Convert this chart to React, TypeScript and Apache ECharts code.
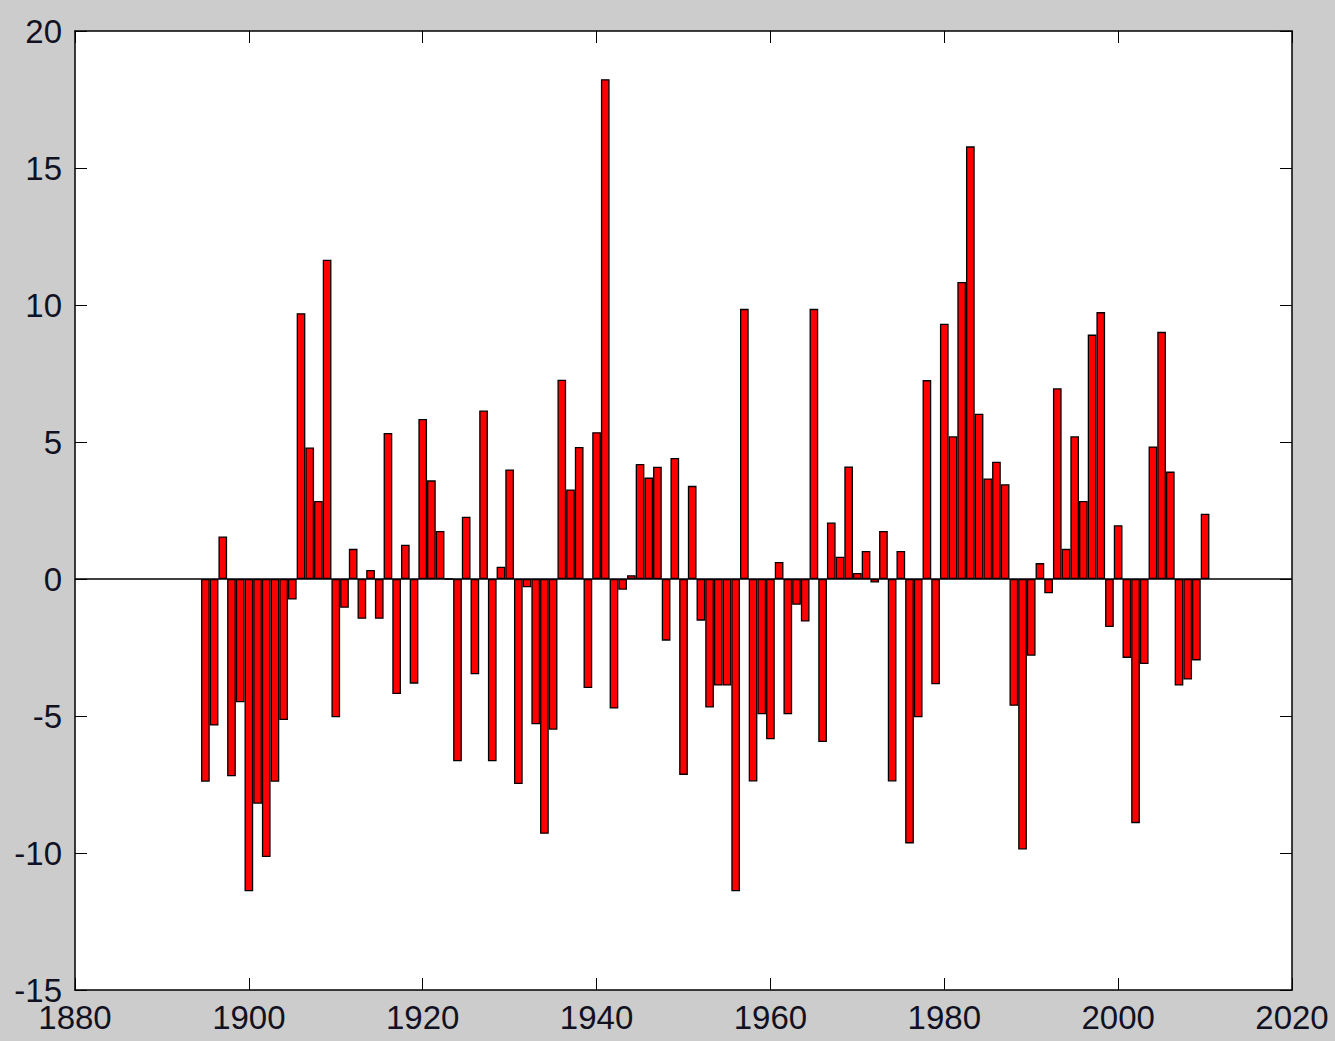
import React, { useEffect, useRef } from "react";
import * as echarts from "echarts";

// First year of the series; one value per year follows
const startYear = 1895;

const values1895to1924 = [
  -7.4, -5.35, 1.55, -7.2, -4.5, -11.4, -8.2, -10.15, -7.4, -5.15,
  -0.75, 9.7, 4.8, 2.85, 11.65, -5.05, -1.05, 1.1, -1.45, 0.33,
  -1.45, 5.33, -4.2, 1.25, -3.82, 5.84, 3.6, 1.75, 0, -6.65,
];
const values1925to1954 = [
  2.27, -3.48, 6.15, -6.65, 0.45, 4.0, -7.48, -0.3, -5.3, -9.3,
  -5.5, 7.27, 3.27, 4.82, -3.98, 5.36, 18.24, -4.73, -0.39, 0.14,
  4.2, 3.7, 4.1, -2.25, 4.42, -7.15, 3.4, -1.52, -4.69, -3.89,
];
const values1955to1984 = [
  -3.89, -11.4, 9.86, -7.39, -4.94, -5.85, 0.62, -4.94, -0.94, -1.55,
  9.86, -5.95, 2.06, 0.81, 4.11, 0.22, 1.02, -0.13, 1.75, -7.39,
  1.02, -9.65, -5.05, 7.26, -3.84, 9.32, 5.21, 10.84, 15.79, 6.03,
];
const values1985to2010 = [
  3.67, 4.28, 3.46, -4.63, -9.87, -2.8, 0.58, -0.52, 6.96, 1.1,
  5.21, 2.85, 8.92, 9.74, -1.75, 1.96, -2.88, -8.91, -3.1, 4.84,
  9.02, 3.92, -3.89, -3.67, -2.97, 2.38,
];

const values = [
  ...values1895to1924,
  ...values1925to1954,
  ...values1955to1984,
  ...values1985to2010,
];
const years = values.map((_, i) => startYear + i);

const xTicks = { min: 1880, max: 2020, interval: 20 };
const yTicks = { min: -15, max: 20, interval: 5 };

const W = 1335;
const H = 1041;
const GRID = { left: 75, right: 43, top: 31, bottom: 51 };

export default function App() {
  const ref = useRef<HTMLDivElement>(null);

  useEffect(() => {
    document.body.style.margin = "0";
    if (!ref.current) return;
    const chart = echarts.init(ref.current, null, { renderer: "svg" });
    const font = "'Liberation Sans', Arial, sans-serif";
    const labelStyle = {
      color: "#111122",
      fontSize: 33,
      fontFamily: font,
    };
    const lineStyle = { color: "#000", width: 1.5 };
    const tickStyle = { color: "#000", width: 1 };
    // one year of the x axis, in pixels: bars fill the full year slot
    const yearPx = (W - GRID.left - GRID.right) / (xTicks.max - xTicks.min);

    chart.setOption({
      animation: false,
      backgroundColor: "#cccccc",
      grid: {
        ...GRID,
        show: true,
        backgroundColor: "#ffffff",
        borderWidth: 0,
      },
      xAxis: [
        {
          type: "value",
          position: "bottom",
          ...xTicks,
          axisLine: { show: true, onZero: false, lineStyle },
          axisTick: { show: true, inside: true, length: 12, lineStyle: tickStyle },
          axisLabel: {
            ...labelStyle,
            margin: 11,
            showMinLabel: true,
            showMaxLabel: true,
            formatter: (v: number) => String(v),
          },
          splitLine: { show: false },
        },
        {
          type: "value",
          position: "top",
          ...xTicks,
          axisLine: { show: true, onZero: false, lineStyle },
          axisTick: { show: true, inside: true, length: 12, lineStyle: tickStyle },
          axisLabel: { show: false },
          splitLine: { show: false },
        },
      ],
      yAxis: [
        {
          type: "value",
          position: "left",
          ...yTicks,
          axisLine: { show: true, onZero: false, lineStyle },
          axisTick: { show: true, inside: true, length: 12, lineStyle: tickStyle },
          axisLabel: {
            ...labelStyle,
            margin: 13,
            showMinLabel: true,
            showMaxLabel: true,
            formatter: (v: number) => String(v),
          },
          splitLine: { show: false },
        },
        {
          type: "value",
          position: "right",
          ...yTicks,
          axisLine: { show: true, onZero: false, lineStyle },
          axisTick: { show: true, inside: true, length: 12, lineStyle: tickStyle },
          axisLabel: { show: false },
          splitLine: { show: false },
        },
      ],
      series: [
        {
          type: "bar",
          xAxisIndex: 0,
          yAxisIndex: 0,
          data: years.map((y, i) => [y, values[i]]),
          barWidth: yearPx,
          itemStyle: {
            color: "#ff0000",
            borderColor: "#000000",
            borderWidth: 1.3,
          },
          markLine: {
            silent: true,
            symbol: ["none", "none"],
            label: { show: false },
            lineStyle: { color: "#000", width: 1.5, type: "solid" },
            data: [{ yAxis: 0 }],
          },
        },
      ],
    });

    return () => chart.dispose();
  }, []);

  return (
    <div
      ref={ref}
      style={{ position: "absolute", left: 0, top: 0, width: W, height: H }}
    />
  );
}
